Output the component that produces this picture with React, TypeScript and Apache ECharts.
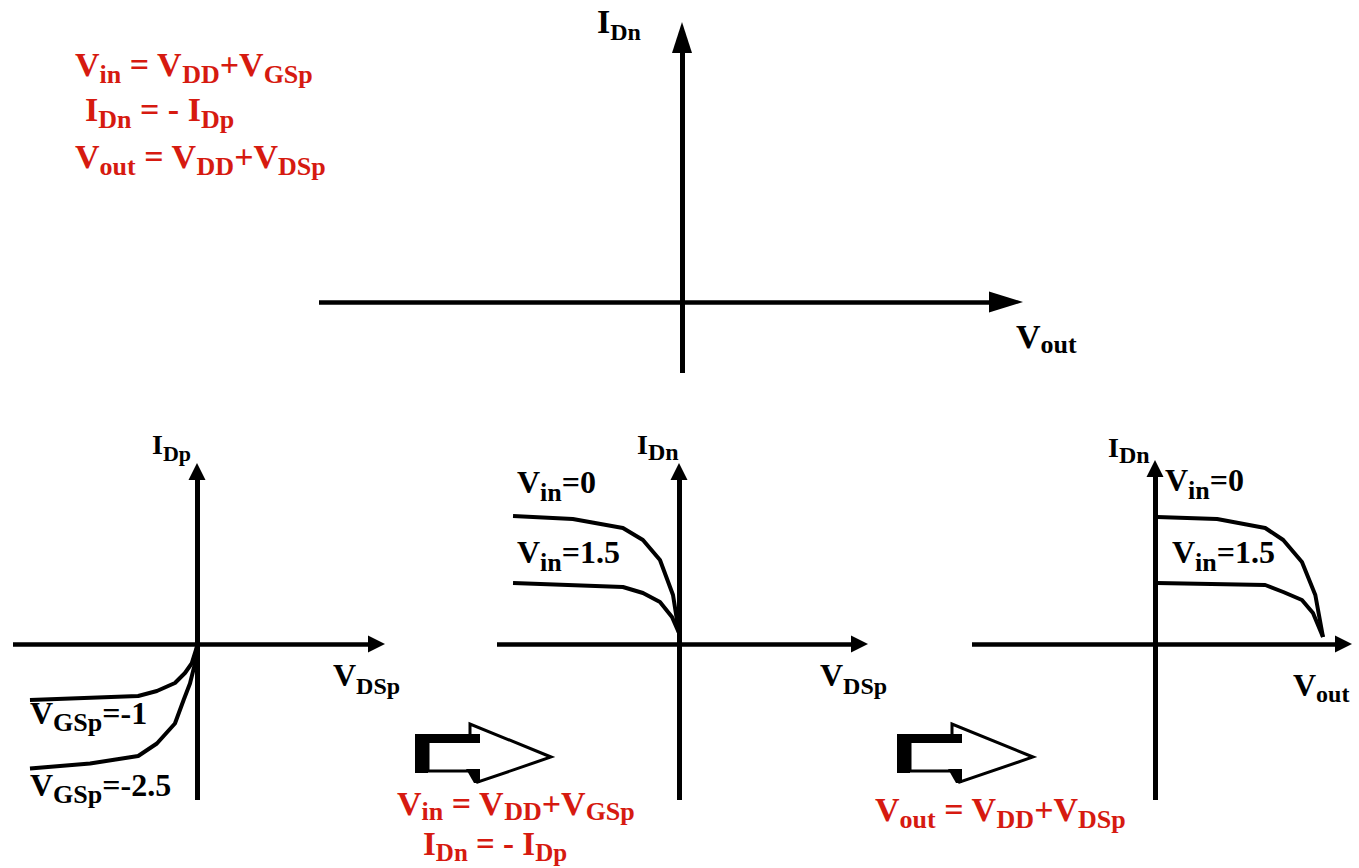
import React, { useEffect, useRef } from "react";
import * as echarts from "echarts";

// ---- data: p-MOS characteristics (V_DSp [V], I_Dp) ----
const pVgsM1: [number, number][] = [
  [-2.5, -1.12], [-0.88, -1.04], [-0.6, -0.94], [-0.33, -0.78], [-0.18, -0.58], [-0.08, -0.39], [0, -0.05],
];
const pVgsM25: [number, number][] = [
  [-2.5, -2.49], [-1.6, -2.39], [-0.88, -2.24], [-0.6, -1.99], [-0.33, -1.59], [-0.2, -1.12], [-0.105, -0.79], [-0.03, -0.39], [0, -0.05],
];
// ---- mirrored: (V_DSp, I_Dn) ----
const nVin0: [number, number][] = [
  [-2.485, 2.56], [-1.59, 2.5], [-0.84, 2.32], [-0.54, 2.08], [-0.285, 1.68], [-0.09, 0.98], [0, 0.22],
];
const nVin15: [number, number][] = [
  [-2.485, 1.22], [-0.84, 1.14], [-0.54, 1.02], [-0.285, 0.84], [-0.105, 0.54], [0, 0.22],
];
// ---- shifted: (V_out, I_Dn) ----
const oVin0: [number, number][] = [
  [0.03, 2.54], [0.93, 2.5], [1.65, 2.32], [1.92, 2.08], [2.2, 1.64], [2.4, 0.98], [2.515, 0.14],
];
const oVin15: [number, number][] = [
  [0.03, 1.22], [1.65, 1.18], [1.92, 1.04], [2.2, 0.88], [2.365, 0.62], [2.515, 0.14],
];

const FONT = '"Liberation Serif", "Times New Roman", serif';
const RED = "#d61a10";

type Part = [string, "m" | "s"];

function label(left: number, capTop: number, parts: Part[], m: number, s: number, drop: number, color = "#000") {
  const pad = drop + 0.8375 * (m - s);
  return {
    type: "text",
    x: left,
    y: capTop - 0.1755 * m,
    silent: true,
    style: {
      text: parts.map(([t, k]) => `{${k}|${t}}`).join(""),
      textVerticalAlign: "top",
      textAlign: "left",
      fill: color,
      rich: {
        m: { fontSize: m, fontWeight: "bold", fontFamily: FONT, fill: color, verticalAlign: "top", height: m, lineHeight: m },
        s: { fontSize: s, fontWeight: "bold", fontFamily: FONT, fill: color, verticalAlign: "bottom", height: s, padding: [pad, 0, 0, 0] },
      },
    },
  };
}

function blockArrow(dx: number) {
  return [
    {
      type: "polygon",
      silent: true,
      shape: { points: [[428 + dx, 741], [470 + dx, 741], [470 + dx, 724], [551 + dx, 757], [478 + dx, 782], [478 + dx, 771], [428 + dx, 771]] },
      style: { fill: "#fff", stroke: "#000", lineWidth: 3 },
    },
    { type: "rect", silent: true, shape: { x: 415 + dx, y: 734, width: 65, height: 9 }, style: { fill: "#000" } },
    { type: "rect", silent: true, shape: { x: 415 + dx, y: 734, width: 13, height: 39 }, style: { fill: "#000" } },
    { type: "polygon", silent: true, shape: { points: [[466 + dx, 769], [480 + dx, 769], [480 + dx, 783], [474 + dx, 783]] }, style: { fill: "#000" } },
  ];
}

function axisPair(grid: number, xr: [number, number], yr: [number, number], sym: [number, number], symY: [number, number]) {
  const common = {
    gridIndex: grid,
    type: "value",
    axisTick: { show: false },
    axisLabel: { show: false },
    splitLine: { show: false },
  };
  return {
    x: {
      ...common,
      min: xr[0],
      max: xr[1],
      axisLine: { show: true, onZero: true, symbol: ["none", "triangle"], symbolSize: sym, lineStyle: { color: "#000", width: 4.5, cap: "butt" } },
    },
    y: {
      ...common,
      min: yr[0],
      max: yr[1],
      axisLine: { show: true, onZero: true, symbol: ["none", "triangle"], symbolSize: symY, lineStyle: { color: "#000", width: 5, cap: "butt" } },
    },
  };
}

function curve(idx: number, data: [number, number][], name: string) {
  return {
    type: "line",
    name,
    xAxisIndex: idx,
    yAxisIndex: idx,
    data,
    showSymbol: false,
    silent: true,
    lineStyle: { color: "#000", width: 4 },
  };
}

export default function App() {
  const ref = useRef<HTMLDivElement>(null);
  useEffect(() => {
    if (!ref.current) return;
    const chart = echarts.init(ref.current, undefined, { renderer: "svg" });
    const a0 = axisPair(0, [-3.63, 3.24], [-0.71, 2.645], [21, 34], [20, 31]);
    const a1 = axisPair(1, [-2.754, 2.687], [-3.12, 3.45], [17, 17], [17, 17]);
    const a2 = axisPair(2, [-2.725, 2.702], [-3.12, 3.45], [17, 17], [17, 17]);
    const a3 = axisPair(3, [-2.74, 2.822], [-3.12, 3.51], [17, 17], [17, 17]);
    chart.setOption({
      animation: false,
      backgroundColor: "#fff",
      grid: [
        { left: 319, top: 37.5, width: 687, height: 335.5 },
        { left: 13, top: 471.5, width: 363.5, height: 328.5 },
        { left: 497, top: 471.5, width: 362.5, height: 328.5 },
        { left: 972, top: 468.5, width: 371.5, height: 331.5 },
      ],
      xAxis: [a0.x, a1.x, a2.x, a3.x],
      yAxis: [a0.y, a1.y, a2.y, a3.y],
      series: [
        curve(1, pVgsM1, "VGSp=-1"),
        curve(1, pVgsM25, "VGSp=-2.5"),
        curve(2, nVin0, "Vin=0"),
        curve(2, nVin15, "Vin=1.5"),
        curve(3, oVin0, "Vin=0 (Vout)"),
        curve(3, oVin15, "Vin=1.5 (Vout)"),
      ],
      graphic: [
        // red relations top-left
        label(75, 53, [["V", "m"], ["in", "s"], [" = V", "m"], ["DD", "s"], ["+V", "m"], ["GSp", "s"]], 34, 26, 8, RED),
        label(85, 98, [["I", "m"], ["Dn", "s"], [" = - I", "m"], ["Dp", "s"]], 34, 26, 8, RED),
        label(75, 145, [["V", "m"], ["out", "s"], [" = V", "m"], ["DD", "s"], ["+V", "m"], ["DSp", "s"]], 34, 26, 8, RED),
        // top chart axis names
        label(597, 10, [["I", "m"], ["Dn", "s"]], 34, 24, 8),
        label(1016, 325, [["V", "m"], ["out", "s"]], 34, 26, 6),
        // left chart
        label(152, 435, [["I", "m"], ["Dp", "s"]], 28, 22, 7),
        label(333, 665, [["V", "m"], ["DSp", "s"]], 32, 24, 8),
        label(30, 703, [["V", "m"], ["GSp", "s"], ["=-1", "m"]], 32, 26, 7),
        label(30, 775, [["V", "m"], ["GSp", "s"], ["=-2.5", "m"]], 32, 26, 7),
        // middle chart
        label(637, 435, [["I", "m"], ["Dn", "s"]], 28, 24, 7),
        label(517, 472, [["V", "m"], ["in", "s"], ["=0", "m"]], 32, 26, 8),
        label(517, 542, [["V", "m"], ["in", "s"], ["=1.5", "m"]], 32, 26, 8),
        label(820, 665, [["V", "m"], ["DSp", "s"]], 32, 24, 8),
        // right chart
        label(1108, 438, [["I", "m"], ["Dn", "s"]], 28, 24, 7),
        label(1165, 470, [["V", "m"], ["in", "s"], ["=0", "m"]], 32, 26, 8),
        label(1172, 542, [["V", "m"], ["in", "s"], ["=1.5", "m"]], 32, 26, 8),
        label(1293, 675, [["V", "m"], ["out", "s"]], 32, 24, 6),
        // block arrows
        ...blockArrow(0),
        ...blockArrow(482),
        // red relations bottom
        label(397, 792, [["V", "m"], ["in", "s"], [" = V", "m"], ["DD", "s"], ["+V", "m"], ["GSp", "s"]], 34, 26, 6, RED),
        label(423, 833, [["I", "m"], ["Dn", "s"], [" = - I", "m"], ["Dp", "s"]], 33, 25, 6, RED),
        label(875, 798, [["V", "m"], ["out", "s"], [" = V", "m"], ["DD", "s"], ["+V", "m"], ["DSp", "s"]], 34, 26, 8, RED),
      ],
    });
    return () => chart.dispose();
  }, []);
  return (
    <div
      ref={ref}
      style={{ position: "absolute", left: 0, top: 0, width: 1359, height: 868, background: "#fff" }}
    />
  );
}
